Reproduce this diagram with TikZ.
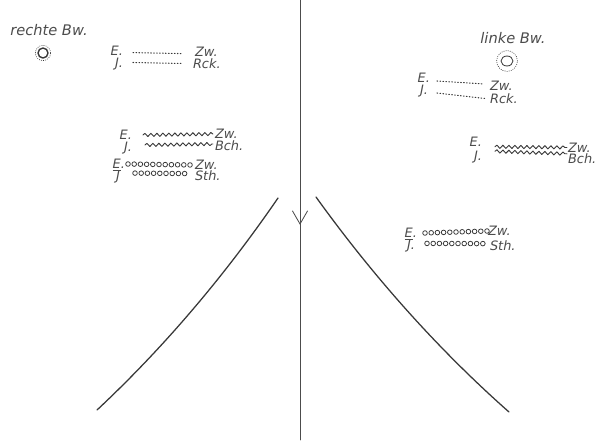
\documentclass[tikz,border=0pt]{standalone}
\usepackage{fontspec}
\newfontfamily\lettering{DejaVu Sans}
\usepackage{tikz}
\usetikzlibrary{arrows.meta,positioning,shapes.geometric,decorations.pathmorphing,decorations.markings}
\definecolor{ink}{HTML}{383838}
\definecolor{pencil}{HTML}{4C4C4C}
\tikzset{
    every picture/.style={line cap=round,line join=round},
    tag/.style={inner sep=0pt,outer sep=0pt,text=pencil,
      font=\lettering\itshape\fontsize{9.2}{10}\selectfont,
      text height=6.7pt,text depth=0pt},
    tagL/.style={tag,anchor=east},
    tagR/.style={tag,anchor=west},
    sidetag/.style={tag,font=\lettering\itshape\fontsize{10.4}{11}\selectfont},
    spot/.style={draw=ink,inner sep=0pt,outer sep=0pt},
    halo/.style={draw=ink,line width=0.45pt,dash pattern=on 0.4pt off 1.1pt},
    rcktrace/.style={draw=ink,line width=0.75pt,dash pattern=on 0.5pt off 1.6pt},
    bchtrace/.style={draw=ink,line width=0.65pt,decorate,
      decoration={snake,segment length=1.5mm,amplitude=0.4mm}},
    sthtrace/.style={postaction={decorate,decoration={markings,
      mark=between positions 0 and 1 step 1.55mm with
      {\draw[ink,line width=0.55pt] (0,0) circle (0.58mm);}}}},
    axis/.style={draw=pencil,line width=0.6pt},
    branch/.style={draw=ink,line width=0.9pt}
}
\begin{document}
\begin{tikzpicture}[x=0.025cm,y=-0.025cm]
    \useasboundingbox (0,0) rectangle (602,443);
    % axis with its arrow
    \coordinate (axtop) at (300,0);
    \coordinate (axbot) at (300,440);
    \draw[axis,postaction={decorate,decoration={markings,
        mark=at position 0.511 with {\arrow{Straight Barb[length=3.3mm,width=3.8mm]}}}}]
        (axtop) -- (axbot);
    \draw[branch] (97,410) .. controls (160,351) and (221,281) .. (278,198);
    \draw[branch] (316,197) .. controls (375,279) and (440,351) .. (509,412);
    % right and left Bw.
    \node[sidetag] (rBw) at (49,31) {rechte Bw.};
    \node[spot,circle,line width=1pt,minimum size=2.5mm] (rSpot) at (43,53) {};
    \draw[halo] (rSpot.center) circle (1.9mm);
    \node[sidetag] (lBw) at (513,39) {linke Bw.};
    \node[spot,ellipse,line width=0.6pt,minimum width=3mm,minimum height=2.5mm] (lSpot) at (507,61) {};
    \draw[halo] (lSpot.center) circle (2.6mm);
    % left, Rck.
    \node[tagL] (eA) at (123,51) {E.};
    \node[tagL] (jA) at (123,62.5) {J.};
    \node[tagR] (zA) at (195,52) {Zw.};
    \node[tagR] (rA) at (193,63.5) {Rck.};
    \draw[rcktrace] ([xshift=2.5mm,yshift=-0.4mm]eA.east) -- ([xshift=-3.25mm,yshift=-0.4mm]zA.west);
    \draw[rcktrace] ([xshift=2.5mm]jA.east) -- ([xshift=-2.5mm]rA.west);
    % left, Bch.
    \node[tagL] (eB) at (132,135) {E.};
    \node[tagL] (jB) at (132,147) {J.};
    \node[tagR] (zB) at (215,134) {Zw.};
    \node[tagR] (bB) at (215,146) {Bch.};
    \draw[bchtrace] ([xshift=2.75mm]eB.east) -- ([xshift=-0.5mm]zB.west);
    \draw[bchtrace] ([xshift=3.25mm,yshift=0.5mm]jB.east) -- ([xshift=-0.5mm,yshift=0.5mm]bB.west);
    % left, Sth.
    \node[tagL] (eC) at (125,164) {\underline{E}.};
    \node[tagL] (jC) at (120,175.5) {J};
    \node[tagR] (zC) at (195,165) {Zw.};
    \node[tagR] (sC) at (195,176) {Sth.};
    \path[sthtrace] ([xshift=0.75mm]eC.east) -- ([xshift=-0.5mm]zC.west);
    \path[sthtrace] ([xshift=3.75mm,yshift=0.6mm]jC.east) -- ([xshift=-1.25mm,yshift=0.6mm]sC.west);
    % right, Rck.
    \node[tagL] (eD) at (430,78) {E.};
    \node[tagL] (jD) at (428,90) {J.};
    \node[tagR] (zD) at (490,85.5) {Zw.};
    \node[tagR] (rD) at (490,98.5) {Rck.};
    \draw[rcktrace] ([xshift=1.75mm,yshift=-0.75mm]eD.east) -- ([xshift=-1.75mm,yshift=0.4mm]zD.west);
    \draw[rcktrace] ([xshift=2.25mm,yshift=-0.75mm]jD.east) -- ([xshift=-1.25mm]rD.west);
    % right, Bch.
    \node[tagL] (eE) at (482,142) {E.};
    \node[tagL] (jE) at (482,156) {J.};
    \node[tagR] (zE) at (568,147.5) {Zw.};
    \node[tagR] (bE) at (568,158.5) {Bch.};
    \draw[bchtrace] ([xshift=3.25mm]eE.south east) -- ([xshift=-0.25mm]zE.west);
    \draw[bchtrace] ([xshift=3.25mm]jE.north east) -- ([xshift=-0.25mm]bE.north west);
    % right, Sth.
    \node[tagL] (eF) at (417,233) {\underline{E}.};
    \node[tagL] (jF) at (415,245) {J.};
    \node[tagR] (zF) at (488,231) {Zw.};
    \node[tagR] (sF) at (490,246) {Sth.};
    \path[sthtrace] ([xshift=2mm]eF.east) -- ([xshift=-0.25mm]zF.west);
    \path[sthtrace] ([xshift=3mm,yshift=0.4mm]jF.east) -- ([xshift=-1.25mm,yshift=0.6mm]sF.west);
\end{tikzpicture}
\end{document}
